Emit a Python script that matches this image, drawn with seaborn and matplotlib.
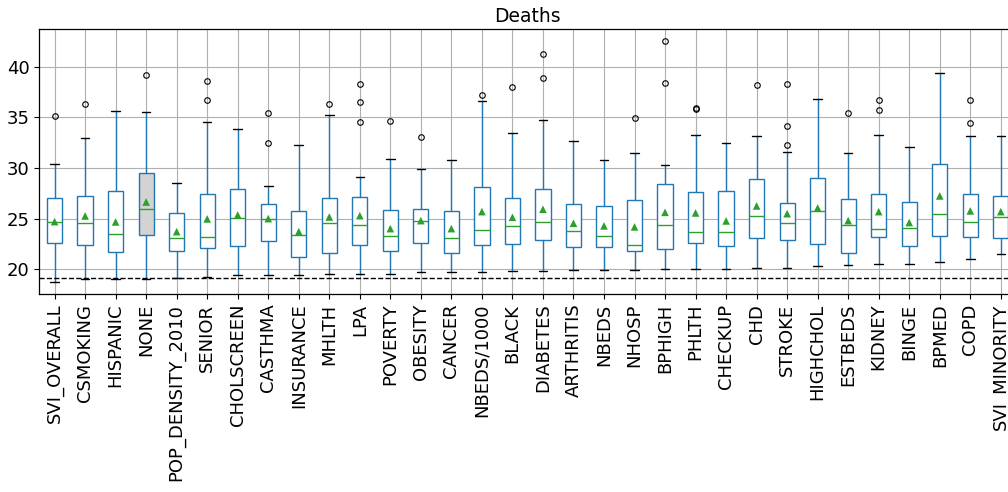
import matplotlib
matplotlib.use("Agg")
import matplotlib.pyplot as plt
import seaborn as sns

# Box statistics (Deaths by feature)
labels = ["SVI_OVERALL", "CSMOKING", "HISPANIC", "NONE", "POP_DENSITY_2010",
          "SENIOR", "CHOLSCREEN", "CASTHMA", "INSURANCE", "MHLTH", "LPA",
          "POVERTY", "OBESITY", "CANCER", "NBEDS/1000", "BLACK", "DIABETES",
          "ARTHRITIS", "NBEDS", "NHOSP", "BPHIGH", "PHLTH", "CHECKUP", "CHD",
          "STROKE", "HIGHCHOL", "ESTBEDS", "KIDNEY", "BINGE", "BPMED", "COPD",
          "SVI_MINORITY"]

whislo = [18.75, 19.04, 19.07, 19.07, 19.14, 19.27, 19.41, 19.44, 19.47, 19.50,
          19.54, 19.57, 19.70, 19.73, 19.76, 19.86, 19.86, 19.96, 19.96, 19.96,
          20.00, 20.00, 20.00, 20.13, 20.13, 20.36, 20.39, 20.49, 20.55, 20.69,
          21.02, 21.54]
q1 = [22.57, 22.40, 21.74, 23.36, 21.84, 22.13, 22.30, 22.83, 21.24, 21.64,
      22.40, 21.78, 22.60, 21.61, 22.37, 22.50, 22.86, 22.17, 22.20, 21.81,
      22.04, 22.63, 22.33, 23.09, 22.89, 22.53, 21.64, 23.16, 22.30, 23.26,
      23.16, 23.09]
med = [24.67, 24.60, 23.48, 25.95, 23.06, 23.22, 25.09, 24.94, 23.42, 24.54,
       24.34, 23.26, 24.77, 23.12, 23.88, 24.30, 24.64, 23.75, 23.26, 22.40,
       24.34, 23.65, 23.71, 25.29, 24.54, 25.76, 24.40, 23.95, 24.08, 25.43,
       24.64, 25.19]
q3 = [27.00, 27.27, 27.73, 29.48, 25.53, 27.40, 27.90, 26.42, 25.73, 27.07,
      27.17, 25.82, 25.92, 25.76, 28.09, 27.00, 27.96, 26.42, 26.25, 26.84,
      28.39, 27.66, 27.76, 28.94, 26.58, 28.98, 26.97, 27.40, 26.67, 30.39,
      27.46, 27.24]
whishi = [30.39, 32.96, 35.60, 35.50, 28.49, 34.57, 33.88, 28.25, 32.24, 35.20,
          29.08, 30.89, 29.93, 30.75, 36.61, 33.42, 34.74, 32.67, 30.82, 31.51,
          30.30, 33.26, 32.44, 33.16, 31.55, 36.78, 31.51, 33.29, 32.07, 39.35,
          33.13, 33.19]
means = [24.70, 25.26, 24.67, 26.64, 23.71, 24.97, 25.36, 25.00, 23.71, 25.16,
         25.29, 24.01, 24.80, 24.01, 25.69, 25.13, 25.92, 24.54, 24.28, 24.18,
         25.62, 25.56, 24.77, 26.25, 25.49, 26.05, 24.80, 25.69, 24.61, 27.24,
         25.76, 25.69]
fliers = [[35.13], [36.29], [], [39.15], [], [38.62, 36.74], [], [35.40, 32.44],
          [], [36.35], [38.32, 36.55, 34.50], [34.64], [33.03], [], [37.18],
          [38.00], [41.28, 38.91], [], [], [34.97], [42.51, 38.42],
          [35.95, 35.85], [], [38.19], [38.32, 34.15, 32.24], [], [35.46],
          [36.71, 35.69], [], [], [36.74, 34.44], []]

threshold = 19.1

sns.set_theme(style="ticks", rc={
    "axes.grid": True,
    "grid.color": "#b0b0b0",
    "grid.linewidth": 0.8,
    "axes.edgecolor": "black",
    "axes.linewidth": 0.9,
    "axes.axisbelow": True,
    "xtick.color": "black",
    "ytick.color": "black",
    "text.color": "black",
})
plt.rcParams["font.family"] = ["DejaVu Sans"]

fig = plt.figure(figsize=(10.08, 4.92), dpi=100)
ax = fig.add_axes([0.039, 0.4024, 0.969, 0.538])

stats = [dict(label=lab, whislo=lo, q1=a, med=m, q3=b, whishi=hi, fliers=f)
         for lab, lo, a, m, b, hi, f in zip(labels, whislo, q1, med, q3, whishi, fliers)]
positions = list(range(len(labels)))

bp = ax.bxp(stats, positions=positions, widths=0.5, capwidths=0.28,
            patch_artist=True,
            boxprops=dict(facecolor="white", edgecolor="#1f77b4", linewidth=1),
            whiskerprops=dict(color="#1f77b4", linewidth=1),
            capprops=dict(color="black", linewidth=1),
            medianprops=dict(color="#2ca02c", linewidth=1),
            flierprops=dict(marker="o", markerfacecolor="none",
                            markeredgecolor="black", markersize=4,
                            markeredgewidth=0.8))
bp["boxes"][labels.index("NONE")].set_facecolor("lightgray")

# means as green triangles
sns.scatterplot(x=positions, y=means, marker="^", s=30, color="#2ca02c",
                edgecolor="none", zorder=3, legend=False, ax=ax)

ax.axhline(threshold, color="black", linestyle="--", linewidth=1)

ax.set_xlim(-0.5, len(labels) - 0.5)
ax.set_ylim(17.55, 43.7)
ax.set_xticks(positions)
ax.set_xticklabels(labels, rotation=90, fontsize=13)
ax.set_yticks([20, 25, 30, 35, 40])
ax.tick_params(axis="y", labelsize=13)
ax.tick_params(length=3.5, width=0.8)
ax.set_xlabel("")
ax.set_ylabel("")
ax.set_title("Deaths", fontsize=13.5, pad=5)

plt.savefig("out.png", dpi=100)
plt.close()
